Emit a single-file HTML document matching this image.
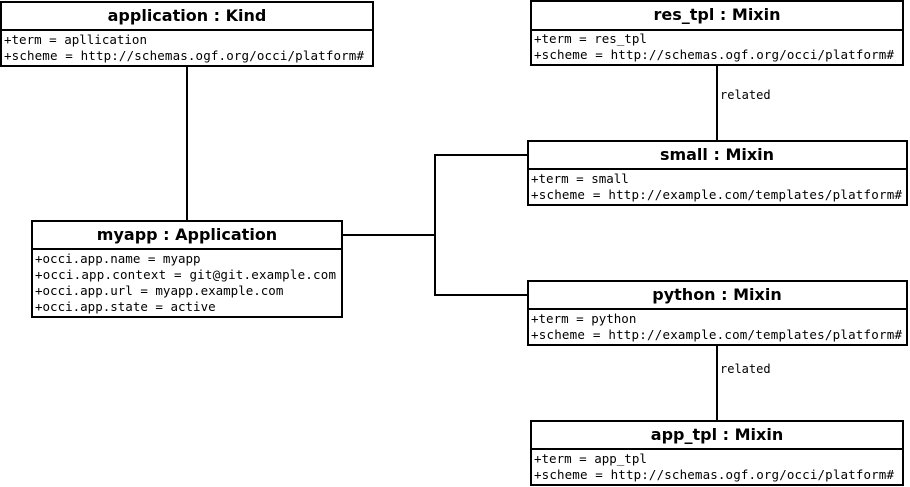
<!DOCTYPE html>
<html><head><meta charset="utf-8"><style>
html,body{margin:0;padding:0;background:#fff;}
svg{display:block}
.t{font-family:"DejaVu Sans","Liberation Sans",sans-serif;font-weight:bold;font-size:16px;text-anchor:middle}
.a{font-family:"DejaVu Sans Mono","Liberation Mono",monospace;font-size:12.5px}
.r{font-family:"DejaVu Sans Mono","Liberation Mono",monospace;font-size:12px}
rect,line,polyline{stroke:#000;stroke-width:2;fill:none}
</style></head><body>
<svg width="910" height="487" viewBox="0 0 910 487" xmlns="http://www.w3.org/2000/svg">
<line x1="187" y1="66" x2="187" y2="221"/>
<polyline points="342,235 435,235"/>
<polyline points="528,155 435,155 435,295 528,295"/>
<line x1="717" y1="65" x2="717" y2="141"/>
<line x1="717" y1="345" x2="717" y2="421"/>
<text class="r" x="720" y="99">related</text>
<text class="r" x="720" y="373">related</text>

<rect x="1" y="2" width="372" height="64" fill="#fff"/><line x1="1" y1="30" x2="373" y2="30"/>
<text class="t" x="187" y="21">application : Kind</text>
<text class="a" x="4" y="44">+term = apllication</text>
<text class="a" x="4" y="60" textLength="360">+scheme = http://schemas.ogf.org/occi/platform#</text>

<rect x="531" y="1" width="372" height="64"/><line x1="531" y1="30" x2="903" y2="30"/>
<text class="t" x="717" y="20">res_tpl : Mixin</text>
<text class="a" x="534" y="43">+term = res_tpl</text>
<text class="a" x="534" y="59" textLength="360">+scheme = http://schemas.ogf.org/occi/platform#</text>

<rect x="528" y="141" width="379" height="64"/><line x1="528" y1="169" x2="907" y2="169"/>
<text class="t" x="717" y="160">small : Mixin</text>
<text class="a" x="531" y="183">+term = small</text>
<text class="a" x="531" y="199" textLength="371">+scheme = http://example.com/templates/platform#</text>

<rect x="528" y="281" width="379" height="64"/><line x1="528" y1="309" x2="907" y2="309"/>
<text class="t" x="717" y="300">python : Mixin</text>
<text class="a" x="531" y="323">+term = python</text>
<text class="a" x="531" y="339" textLength="371">+scheme = http://example.com/templates/platform#</text>

<rect x="531" y="421" width="372" height="64"/><line x1="531" y1="449" x2="903" y2="449"/>
<text class="t" x="717" y="440">app_tpl : Mixin</text>
<text class="a" x="534" y="463">+term = app_tpl</text>
<text class="a" x="534" y="479" textLength="360">+scheme = http://schemas.ogf.org/occi/platform#</text>

<rect x="32" y="221" width="310" height="96"/><line x1="32" y1="249" x2="342" y2="249"/>
<text class="t" x="187" y="240">myapp : Application</text>
<text class="a" x="35" y="263">+occi.app.name = myapp</text>
<text class="a" x="35" y="279" textLength="301">+occi.app.context = git@git.example.com</text>
<text class="a" x="35" y="295">+occi.app.url = myapp.example.com</text>
<text class="a" x="35" y="311">+occi.app.state = active</text>
</svg>
</body></html>
